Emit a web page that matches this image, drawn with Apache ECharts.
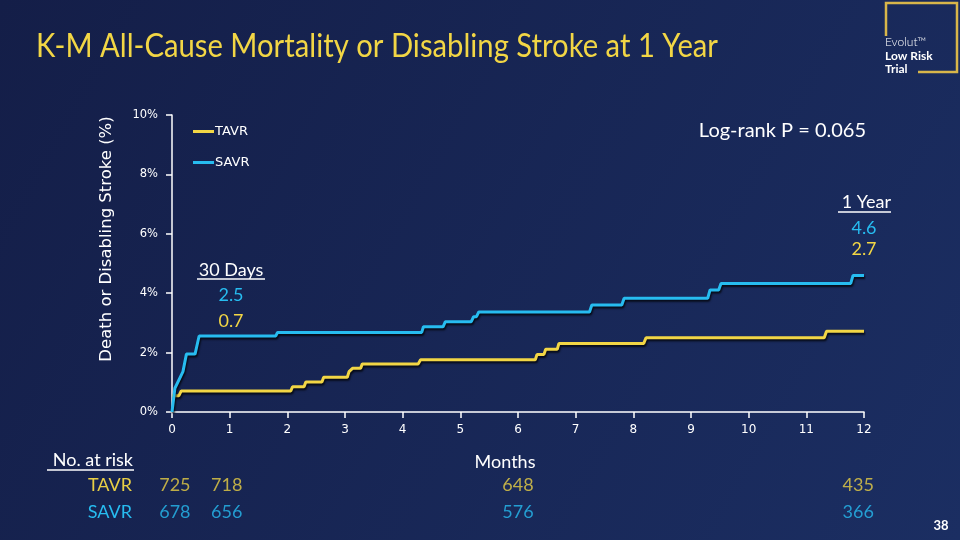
<!DOCTYPE html>
<html>
<head>
<meta charset="utf-8">
<title>K-M All-Cause Mortality or Disabling Stroke at 1 Year</title>
<script src="https://cdn.jsdelivr.net/npm/echarts@6/dist/echarts.min.js"></script>
<style>
  html, body { margin: 0; padding: 0; background: #16224d; }
  #chart { width: 960px; height: 540px; }
</style>
</head>
<body>
<div id="chart"></div>
<script>
// months / cumulative event rate (%)
const savrCurve = [
  [0, 0], [0.05, 0.8], [0.19, 1.36], [0.25, 1.95], [0.40, 1.95], [0.47, 2.56],
  [1.80, 2.56], [1.83, 2.68], [4.33, 2.68], [4.36, 2.87], [4.70, 2.87], [4.74, 3.04],
  [5.19, 3.04], [5.23, 3.21], [5.28, 3.21], [5.32, 3.37], [7.24, 3.37], [7.28, 3.60],
  [7.80, 3.60], [7.84, 3.83], [9.29, 3.83], [9.33, 4.11], [9.48, 4.11], [9.52, 4.33],
  [11.77, 4.33], [11.81, 4.6], [12, 4.6]
];
const tavrCurve = [
  [0, 0.55], [0.12, 0.55], [0.16, 0.71], [2.06, 0.71], [2.09, 0.85], [2.29, 0.85],
  [2.32, 1.01], [2.60, 1.01], [2.63, 1.17], [3.04, 1.17], [3.07, 1.36], [3.10, 1.36],
  [3.13, 1.47], [3.27, 1.47], [3.30, 1.62], [4.27, 1.62], [4.31, 1.76], [6.30, 1.76],
  [6.33, 1.94], [6.45, 1.94], [6.48, 2.11], [6.68, 2.11], [6.71, 2.31], [8.18, 2.31],
  [8.22, 2.50], [11.31, 2.50], [11.35, 2.72], [12, 2.72]
];
const riskTimes = [0.05, 0.95, 6, 11.9];
const tavrRisk = [725, 718, 648, 435];
const savrRisk = [678, 656, 576, 366];
const yTicks = [0, 2, 4, 6, 8, 10];

const YELLOW = '#f2d645';
const BLUE = '#27bcf0';
const WHITE = '#ffffff';
const FONT = 'Lato, "Open Sans", sans-serif';
const AXFONT = '"DejaVu Sans", Verdana, sans-serif';

const TITLE = 'K-M All-Cause Mortality or Disabling Stroke at 1 Year';
const TITLE_FONT = '33px ' + FONT;
// squeeze the title to the width it has on the slide
const ctx = document.createElement('canvas').getContext('2d');
ctx.font = TITLE_FONT;
const titleScale = 682 / ctx.measureText(TITLE).width;

const chart = echarts.init(document.getElementById('chart'));

const lineShadow = {
  shadowColor: 'rgba(0,0,0,0.75)', shadowBlur: 2, shadowOffsetX: 1, shadowOffsetY: 2
};

function riskData(vals) {
  return vals.map((v, i) => [riskTimes[i], 0, v]);
}

chart.setOption({
  backgroundColor: {
    type: 'linear', x: 0, y: 0, x2: 1, y2: 1,
    colorStops: [{ offset: 0, color: '#141e48' }, { offset: 1, color: '#1b2e62' }]
  },
  animation: false,
  textStyle: { fontFamily: FONT },
  grid: [
    { left: 172, right: 96, top: 115, bottom: 128 },
    { left: 172, right: 96, top: 472, height: 26 },
    { left: 172, right: 96, top: 499, height: 26 }
  ],
  legend: {
    orient: 'vertical', left: 188, top: 120, itemGap: 18,
    itemWidth: 21, itemHeight: 3, icon: 'rect',
    data: ['TAVR', 'SAVR'],
    textStyle: { color: WHITE, fontFamily: AXFONT, fontSize: 13, padding: [0, 0, 0, -4] }
  },
  xAxis: [
    {
      gridIndex: 0, type: 'value', min: 0, max: 12, interval: 1,
      axisLine: { lineStyle: { color: WHITE, width: 1.5 } },
      axisTick: { show: true, length: 6, lineStyle: { color: WHITE, width: 1.5 } },
      axisLabel: { color: WHITE, fontFamily: AXFONT, fontSize: 12, margin: 12 },
      splitLine: { show: false }
    },
    { gridIndex: 1, type: 'value', min: 0, max: 12, show: false },
    { gridIndex: 2, type: 'value', min: 0, max: 12, show: false }
  ],
  yAxis: [
    {
      gridIndex: 0, type: 'value', min: 0, max: 10, interval: 2,
      axisLine: { show: true, lineStyle: { color: WHITE, width: 1.5 } },
      axisTick: { show: true, length: 6, lineStyle: { color: WHITE, width: 1.5 } },
      axisLabel: {
        color: WHITE, fontFamily: AXFONT, fontSize: 11.5, margin: 14,
        formatter: v => yTicks.includes(v) ? v + '%' : ''
      },
      splitLine: { show: false }
    },
    { gridIndex: 1, type: 'value', min: -1, max: 1, show: false },
    { gridIndex: 2, type: 'value', min: -1, max: 1, show: false }
  ],
  series: [
    {
      name: 'TAVR', type: 'line', xAxisIndex: 0, yAxisIndex: 0,
      data: tavrCurve, showSymbol: false, symbol: 'none', z: 3,
      color: YELLOW,
      lineStyle: Object.assign({ color: YELLOW, width: 3 }, lineShadow)
    },
    {
      name: 'SAVR', type: 'line', xAxisIndex: 0, yAxisIndex: 0,
      data: savrCurve, showSymbol: false, symbol: 'none', z: 4,
      color: BLUE,
      lineStyle: Object.assign({ color: BLUE, width: 3 }, lineShadow)
    },
    {
      name: 'TAVR at risk', type: 'scatter', xAxisIndex: 1, yAxisIndex: 1,
      data: riskData(tavrRisk), symbolSize: 0, silent: true,
      label: {
        show: true, position: 'inside', formatter: p => p.value[2],
        color: '#e9cf45', fontFamily: FONT, fontSize: 18
      }
    },
    {
      name: 'SAVR at risk', type: 'scatter', xAxisIndex: 2, yAxisIndex: 2,
      data: riskData(savrRisk), symbolSize: 0, silent: true,
      label: {
        show: true, position: 'inside', formatter: p => p.value[2],
        color: BLUE, fontFamily: FONT, fontSize: 18
      }
    }
  ],
  graphic: [
    // title
    {
      type: 'text', x: 36, y: 46, scaleX: titleScale,
      style: { text: TITLE, fill: YELLOW, font: TITLE_FONT, verticalAlign: 'middle' }
    },
    // logo frame
    {
      type: 'polyline', silent: true,
      shape: { points: [[886, 36], [886, 3], [957, 3], [957, 72], [918, 72]] },
      style: { stroke: '#d8b64a', lineWidth: 2.5, fill: null }
    },
    { type: 'text', left: 885, top: 36, style: { text: 'Evolut\u2122', fill: WHITE, font: '300 12px ' + FONT } },
    { type: 'text', left: 885, top: 50, style: { text: 'Low Risk', fill: WHITE, font: 'bold 12px ' + FONT } },
    { type: 'text', left: 885, top: 63, style: { text: 'Trial', fill: WHITE, font: 'bold 12px ' + FONT } },
    // y axis name
    {
      type: 'text', x: 107, y: 239, rotation: Math.PI / 2,
      style: {
        text: 'Death or Disabling Stroke (%)', fill: WHITE,
        font: '16.5px ' + AXFONT, align: 'center', verticalAlign: 'middle'
      }
    },
    // log-rank
    {
      type: 'text', x: 866, y: 131,
      style: { text: 'Log-rank P = 0.065', fill: WHITE, font: '20px ' + FONT, align: 'right', verticalAlign: 'middle' }
    },
    // 1 year
    {
      type: 'text', x: 891, y: 202,
      style: { text: '1 Year', fill: WHITE, font: '18px ' + FONT, align: 'right', verticalAlign: 'middle' }
    },
    { type: 'line', shape: { x1: 838, y1: 212, x2: 891, y2: 212 }, style: { stroke: WHITE, lineWidth: 1.5 } },
    {
      type: 'text', x: 864, y: 228,
      style: { text: '4.6', fill: BLUE, font: '18px ' + FONT, align: 'center', verticalAlign: 'middle' }
    },
    {
      type: 'text', x: 864, y: 249,
      style: { text: '2.7', fill: YELLOW, font: '18px ' + FONT, align: 'center', verticalAlign: 'middle' }
    },
    // 30 days
    {
      type: 'text', x: 231, y: 270,
      style: { text: '30 Days', fill: WHITE, font: '18px ' + FONT, align: 'center', verticalAlign: 'middle' }
    },
    { type: 'line', shape: { x1: 197, y1: 279, x2: 265, y2: 279 }, style: { stroke: WHITE, lineWidth: 1.5 } },
    {
      type: 'text', x: 231, y: 295,
      style: { text: '2.5', fill: BLUE, font: '18px ' + FONT, align: 'center', verticalAlign: 'middle' }
    },
    {
      type: 'text', x: 231, y: 321,
      style: { text: '0.7', fill: YELLOW, font: '18px ' + FONT, align: 'center', verticalAlign: 'middle' }
    },
    // months
    {
      type: 'text', x: 505, y: 462,
      style: { text: 'Months', fill: WHITE, font: '18px ' + FONT, align: 'center', verticalAlign: 'middle' }
    },
    // number at risk
    {
      type: 'text', x: 133, y: 460,
      style: { text: 'No. at risk', fill: WHITE, font: '18px ' + FONT, align: 'right', verticalAlign: 'middle' }
    },
    { type: 'line', shape: { x1: 47, y1: 470, x2: 134, y2: 470 }, style: { stroke: WHITE, lineWidth: 1.5 } },
    {
      type: 'text', x: 132, y: 485,
      style: { text: 'TAVR', fill: '#e9cf45', font: '18px ' + FONT, align: 'right', verticalAlign: 'middle' }
    },
    {
      type: 'text', x: 132, y: 512,
      style: { text: 'SAVR', fill: BLUE, font: '18px ' + FONT, align: 'right', verticalAlign: 'middle' }
    },
    // slide number
    {
      type: 'text', x: 941, y: 526,
      style: { text: '38', fill: WHITE, font: 'bold 13px ' + FONT, align: 'center', verticalAlign: 'middle' }
    }
  ]
});
</script>
</body>
</html>
